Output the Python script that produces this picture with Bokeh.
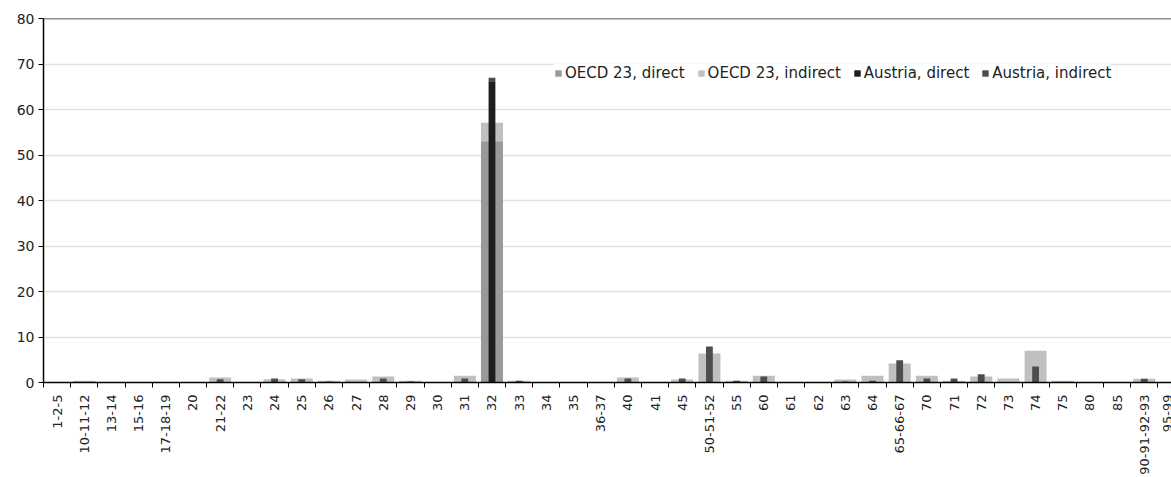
import math
import numpy as np
from bokeh.plotting import figure
from bokeh.models import ColumnDataSource, FixedTicker, Span, Legend
from bokeh.embed import file_html
from bokeh.resources import INLINE

categories = ["1-2-5", "10-11-12", "13-14", "15-16", "17-18-19", "20", "21-22", "23", "24", "25",
              "26", "27", "28", "29", "30", "31", "32", "33", "34", "35", "36-37", "40", "41", "45",
              "50-51-52", "55", "60", "61", "62", "63", "64", "65-66-67", "70", "71", "72", "73", "74",
              "75", "80", "85", "90-91-92-93", "95-99"]

oecd_direct = [0, 0, 0, 0, 0, 0, 0, 0, 0, 0, 0, 0, 0, 0, 0, 0, 53.0, 0, 0, 0, 0, 0, 0, 0,
               0, 0, 0, 0, 0, 0, 0, 0, 0, 0, 0, 0, 0, 0, 0, 0, 0, 0]
oecd_indirect = [0, 0.4, 0, 0, 0, 0, 1.1, 0, 0.7, 0.9, 0.4, 0.65, 1.3, 0.4, 0, 1.5, 4.1, 0.4, 0, 0, 0, 1.1, 0, 0.65,
                 6.4, 0.4, 1.5, 0, 0, 0.65, 1.5, 4.2, 1.5, 0.4, 1.3, 0.9, 7.0, 0.4, 0, 0, 0.8, 0]
austria_direct = [0, 0, 0, 0, 0, 0, 0, 0, 0, 0, 0, 0, 0, 0, 0, 0, 66.2, 0, 0, 0, 0, 0, 0, 0,
                  0, 0, 0, 0, 0, 0, 0, 0, 0, 0, 0, 0, 0, 0, 0, 0, 0, 0]
austria_indirect = [0, 0, 0, 0, 0, 0, 0.7, 0, 0.9, 0.7, 0.2, 0, 0.9, 0.2, 0, 0.9, 0.8, 0.4, 0, 0, 0, 0.9, 0, 0.9,
                    7.9, 0.4, 1.3, 0, 0, 0.2, 0.4, 4.9, 0.9, 0.9, 1.8, 0, 3.5, 0, 0, 0, 0.8, 0]

series_names = ["OECD 23, direct", "OECD 23, indirect", "Austria, direct", "Austria, indirect"]
series_colors = ["#999999", "#c0c0c0", "#1e1e1e", "#4d4d4d"]

n = len(categories)
x = np.arange(n) + 0.5
source = ColumnDataSource(dict(x=x, od=oecd_direct, oi=oecd_indirect, ad=austria_direct, ai=austria_indirect))

FONT = "DejaVu Sans"

p = figure(width=1171, height=477, output_backend="svg", toolbar_location=None,
           x_range=(0, 41.5), y_range=(0, 80),
           min_border_left=43, min_border_right=0, min_border_top=18, min_border_bottom=95)
p.outline_line_color = None
p.background_fill_color = "white"

r1 = p.vbar_stack(["od", "oi"], x="x", width=0.81, color=series_colors[:2], line_color=None, source=source)
r2 = p.vbar_stack(["ad", "ai"], x="x", width=0.25, color=series_colors[2:], line_color=None, source=source)

# grid
p.xgrid.visible = False
p.ygrid.grid_line_color = "#e2e2e2"
p.ygrid.grid_line_width = 1.5
p.yaxis.ticker = FixedTicker(ticks=list(range(0, 81, 10)))

# y axis
p.yaxis.axis_line_color = "black"
p.yaxis.axis_line_width = 1.5
p.yaxis.major_tick_line_color = "black"
p.yaxis.major_tick_out = 5
p.yaxis.major_tick_in = 0
p.yaxis.minor_tick_line_color = None
p.yaxis.major_label_text_font = FONT
p.yaxis.major_label_text_font_size = "14px"
p.yaxis.major_label_text_color = "#222222"
p.yaxis.major_label_standoff = 4

# x axis: labels at category centers, ticks at boundaries
p.xaxis.ticker = FixedTicker(ticks=list(x), minor_ticks=list(range(0, n + 1)))
p.xaxis.major_label_overrides = {float(xi): c for xi, c in zip(x, categories)}
p.xaxis.major_label_orientation = math.pi / 2
p.xaxis.major_tick_out = 0
p.xaxis.major_tick_in = 0
p.xaxis.minor_tick_out = 5
p.xaxis.minor_tick_in = 0
p.xaxis.minor_tick_line_color = "black"
p.xaxis.axis_line_color = "black"
p.xaxis.axis_line_width = 1.5
p.xaxis.major_label_text_font = FONT
p.xaxis.major_label_text_font_size = "13px"
p.xaxis.major_label_text_color = "#222222"
p.xaxis.major_label_standoff = 7

p.add_layout(Span(location=80, dimension="width", line_color="#222222", line_width=1.5))

items = [(series_names[0], [r1[0]]), (series_names[1], [r1[1]]),
         (series_names[2], [r2[0]]), (series_names[3], [r2[1]])]
legend = Legend(items=items, orientation="horizontal", location=(511, 300),
                background_fill_color="white", background_fill_alpha=1.0, border_line_color=None,
                label_text_font=FONT, label_text_font_size="15px", label_text_color="#222222",
                glyph_width=8, glyph_height=8, label_height=15, label_standoff=3, spacing=12,
                padding=3, margin=0)
p.add_layout(legend, "center")

open("out.html", "w").write(file_html(p, INLINE))
